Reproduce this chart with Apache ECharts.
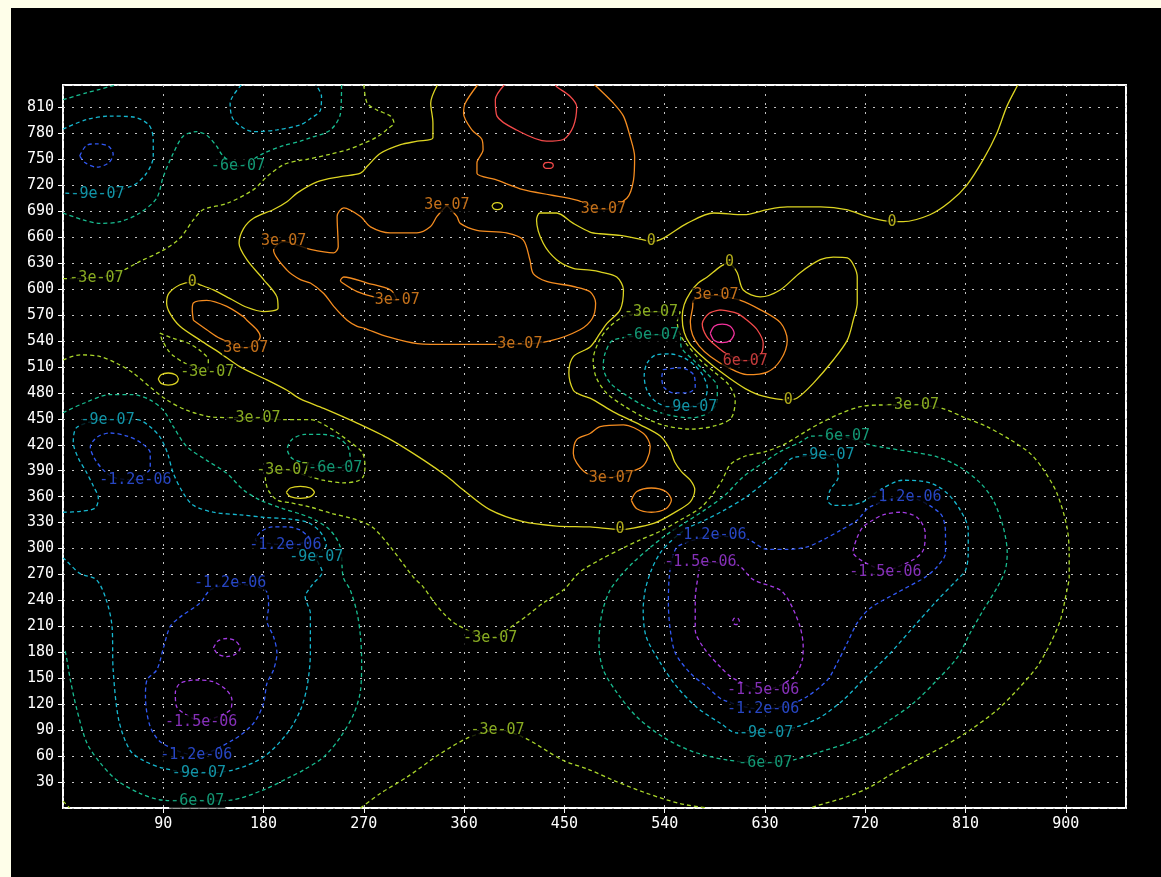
<!DOCTYPE html>
<html>
<head>
<meta charset="utf-8">
<script src="https://cdn.jsdelivr.net/npm/echarts@6/dist/echarts.min.js"></script>
<style>
  html, body { margin: 0; padding: 0; background: #fefee9; width: 1161px; height: 877px; overflow: hidden; }
  #chart { position: absolute; left: 11px; top: 8px; width: 1150px; height: 869px; background: #000; }
</style>
</head>
<body>
<div id="chart"></div>
<script>
// Contour levels, their printed text and colours
const LEVELS = [-1.5e-6, -1.2e-6, -9e-7, -6e-7, -3e-7, 0, 3e-7, 6e-7, 9e-7];
const LEVEL_TEXT = ['-1.5e-06', '-1.2e-06', '-9e-07', '-6e-07', '-3e-07', '0', '3e-07', '6e-07', '9e-07'];
const LEVEL_COLORS = ['#a63ce6', '#3158f4', '#16b8d0', '#18bc90', '#aad62a', '#dcd422', '#f48c20', '#f44a4a', '#f4329e'];

// Axis extents and tick spacing
const X_MAX = 954, Y_MAX = 836, X_STEP = 90, Y_STEP = 30;

// ---- contour polylines, [x, y] in data units ----
// -1.5e-6
const m15BL = [[124,99],[102,117],[100.8,133],[105,144],[120,148],[135,146],[147,136],[151.6,125],[150,113],[124,99]];
const m15BLsmall = [[135,185],[139,193],[147,196],[155,193],[159,185],[155,178],[147,175],[139,178],[135,185]];
const m15BRa = [[572,284],[605,281],[619.5,264],[643.6,252],[652.6,237],[661.6,209],[664.3,186],[663.4,171],[655.3,151],[628.4,136],[601.5,150],[590,163],[574.6,186],[567.4,206],[567.4,241],[570,269],[572,284]];
const m15BRb = [[738,273],[763,287],[772,298],[773.8,318],[766.6,336],[751.3,342],[736,339],[727,333],[718,325],[712.8,313],[709,296],[738,273]];
const m15BRtiny = [[601,216],[602,219],[604,220],[606,219],[607,216],[606,213],[604,212],[602,213],[601,216]];
// -1.2e-6
const m12TL = [[15,754],[21,766],[31,768],[41,765],[45,756],[41,746],[30,741],[20,746],[15,754]];
const m12UL = [[64.9,379.3],[78.3,393],[78.3,410.5],[70.3,422],[57.7,430],[42.4,433.6],[30.8,429],[24.5,417.5],[29,402.5],[38,388.6],[47,381.6],[64.9,379.3]];
const m12Small = [[199.5,304],[222.8,309.5],[219.2,315],[212.9,321.5],[202,325],[187.9,325],[177,319],[172.6,310],[199.5,304]];
const m12BL = [[150,260],[181.6,252],[184.5,233],[183,217],[189,198],[192,179],[189,160],[183,144],[180,121],[171,98],[153,79],[119.6,61],[89,75],[78.3,94],[74,129],[75.4,148],[84.3,160],[90.3,186],[96.3,210],[105.3,221],[123,237],[132,252],[150,260]];
const m12Mid = [[538.7,507],[554,509],[566,501],[567.4,487],[560,480],[548,480],[539,487],[537.5,499],[538.7,507]];
const m12BR = [[581,315],[614,311],[632,299],[650,299],[668,302],[682,310],[697.6,321],[713,333],[724,348],[756,360],[787,341],[792,318],[792,295],[784.5,279],[773.8,267],[748.6,249],[724.4,231],[712.8,214],[703.9,191],[694.9,168],[686,148],[668,129],[652.6,120],[628.4,114],[592.5,125],[578,140],[563,156],[549.6,179],[545,206],[543.3,237],[544,266],[546.8,289],[552.3,303],[581,315]];
// -9e-7
const m9TL = [[0,785],[21,796],[42,800],[63,799],[77,790],[81,773],[81,753],[75,734],[63,720],[31,710],[0,711]];
const m9Top = [[160,836],[150,815],[153,796],[171,782],[192,784],[213,790],[222,797],[231,807],[232,823],[227,836]];
const m9B = [[0,342],[15.5,343],[29,347],[31.7,358.5],[27.2,372.4],[20.9,388.5],[13.7,404.7],[9.2,423],[12.8,440.6],[40,449],[66.7,449],[78,441],[87,429],[93.6,411],[99,387],[108,364],[117,350],[134.9,342],[159.1,339],[181.6,336],[204,334],[220,330],[231,319],[236.3,304],[227.3,290],[232.6,273],[223.7,258],[217.4,244],[222,225],[222,179],[219,140],[213,113],[201,86],[180,59],[153,44],[122,40],[90,46],[72,55],[60,67],[50,102],[45,160],[44,210],[39,240],[30,264],[15.5,271],[2,287],[0,289]];
const m9Mid = [[562.9,463.6],[575.5,471.8],[578.2,485.7],[574.6,499.6],[567.4,511.2],[557.5,520.5],[545,525],[532.4,524],[524.3,514.7],[521.6,499.6],[524.3,482.2],[532.4,469.5],[545,463.6],[562.9,463.6]];
const m9BR = [[686,408],[655.3,405],[643.6,391],[627.5,374],[612.3,359],[594.3,345],[576.4,333],[561,324],[546.8,310],[536,295],[528,275],[522.5,252],[520.7,229],[523.4,198],[536,168],[551,140],[569.2,116],[589.9,98],[605,86.7],[631,86.7],[658.9,94],[679.6,105],[700.3,125],[718,148],[742.4,179],[763,209],[784.5,240],[802.5,264],[810,275],[812.4,295],[812.4,322],[805,345],[793.5,364],[778,376],[754,379],[733.4,368],[718,354],[704,350],[691.3,350],[686,356],[688.6,368],[695.8,383],[695,399],[686,408]];
// -6e-7
const m6Corner = [[0,819],[21,827],[33,831],[47,836]];
const m6A = [[0,688],[18,680],[33,676],[51,678],[69,688],[84,705],[90,730],[99,757],[108,777],[120,782],[129,778],[138,765],[143,755],[157,742],[180,757],[198,766],[213,771],[222,775],[240,784],[249,803],[250,836]];
const m6B = [[0,457],[18.5,468],[42.4,478],[63,478],[78,472],[90,460],[99,441],[111,418],[129,402],[147,387],[161.8,368],[177,356],[197.7,346],[212.9,340],[226.4,333],[239.9,321],[248.8,302],[251.5,267],[257.8,252],[264,225],[267,198],[268,171],[267,136],[261,109],[249,82],[234,59],[216,44],[204,36],[180,21],[150,9],[120.5,8],[90,9],[69,17],[48.5,32],[33.5,52],[21.5,75],[12.6,113],[6.6,148],[2,181],[0,183]];
const m6Small = [[244.3,393],[257.8,402],[256,417],[247,428],[232.6,432],[217.4,432],[205.8,426.5],[201.3,415],[205.8,404],[217.4,399],[230.9,395.5],[244.3,393]];
const m6Mid = [[528.6,547],[554,544.6],[554.8,533],[566.5,517],[578.2,502],[587.2,487],[587.2,472],[580.9,458],[562.9,451],[542.3,455],[524.3,463],[506.4,476.5],[491.1,491.5],[484.8,510],[486.6,526],[493.8,541],[528.6,547]];
const m6BR = [[700,430],[672,430],[661.6,423],[643.6,412],[625.8,397],[609.6,382],[594.3,362],[576.4,345],[558.4,330],[540.5,315],[525,299],[511.8,284],[500,268],[491,252],[484.8,231],[482,212],[481,189],[484.8,160],[497.4,133],[515.3,105],[538.7,82],[565.6,65],[596,55.5],[630.2,52],[655.3,55.5],[679.6,65],[703.9,75],[724.4,86.7],[742.4,102],[763,121],[784.5,148],[802.5,174],[814,202],[826,229],[838.4,255],[845.6,275],[847.4,295],[843.8,325],[834.8,356],[823.1,376],[805.2,394],[784.5,406],[760.3,412],[736.1,417],[724.4,420],[700,430]];
// -3e-7
const m3TL = [[0,612],[30,613],[51,620],[69,632],[90,645],[105,659],[117,680],[126,692],[147,699],[171,715],[183,730],[198,744],[213,749],[219,750],[240,756],[255,761],[267,767],[282,776],[292,786],[297,792],[294,800],[282,807],[273,815],[270,836]];
const m3Small = [[87,549],[99,543],[111.5,538],[123,529],[130.4,518],[129.5,504],[110,514],[99,523],[94.5,529],[89,541],[87,549]];
const m3B = [[0,518],[15.5,524],[33.5,522],[48.5,514],[63,503],[78,487],[93,472],[111,460],[135,452],[171,451],[198,449],[213,449],[222,449],[240,439],[257.8,423],[268.6,411],[271,395],[269.4,383],[264,378],[251.5,376],[233.6,379],[222,383],[197.7,391],[181.6,382],[184,368],[192.3,356],[204,353],[222,348],[240,341],[264,333],[278.4,324],[293.7,302],[314.4,267],[323,256],[332.5,239],[341.5,225],[353.5,212],[383.4,197],[407.4,214],[419,225],[431,237],[449,252],[464,273],[482,287],[500,299],[518,310],[536,320],[554,333],[572,347],[582.6,362],[591.6,379],[598.8,397],[612.3,407],[630.2,412],[648,421],[666,435],[679.6,445],[697.6,456],[715.5,464],[733.4,466],[762,466],[789,462],[808,452],[829,441],[850,426],[868,410],[880,391],[892,364],[901,325],[903,294.5],[903,267],[901,252],[895,217],[886,190],[874,163],[856,136],[838,113],[814,90],[790,71],[766,55],[742,38],[724,24],[703.5,13],[673.5,1.4],[671,0]];
const m3Bot = [[267,0],[285,17],[309,36],[339,63],[365,82],[390,90],[413,82],[449,55],[471,45],[494,32],[524,17],[554,5],[578,0]];
const m3Corner = [[0,8],[6,0]];
const m3Mid = [[527.7,573.6],[554,573.6],[551.3,562],[554,547],[561.1,534],[571.9,518],[584.5,504],[597,490],[603.3,472],[599.7,451],[585.4,442],[563,438],[540.5,442],[522.5,451],[504.6,464],[488.4,479],[478.5,498],[475.8,518],[480.3,538],[489.3,555],[504.6,569],[527.7,573.6]];
// 0
const z0Long = [[336,836],[330,815],[332,792],[332,775],[318,771],[303,767],[285,757],[273,742],[267,734],[249,730],[228,724],[210,711],[201,701],[189,692],[171,682],[162,670],[158,653],[165,634],[180,611],[192,591],[193,578],[180,574],[165,579],[150,589],[135,599],[123,605],[116,608],[105,605],[95,595],[93,584],[96,572],[105,557],[123,541],[141,526],[159,510],[183,495],[201,483],[213,473],[234,462],[264,445],[294,426],[324,402],[345,383],[359,368],[383,345],[413,331],[443,326],[473,325],[500,322],[509,323],[530,329],[548,341],[563,354],[567,368],[563,379],[555,389],[549,400],[545,414],[536,430],[518,443],[494,458],[476,472],[464,478],[458,483],[454,503],[458,522],[473,533],[482,549],[488,560],[500,576],[503,599],[497,614],[482,620],[473,622],[458,624],[443,634],[431,653],[425,680],[428,688],[443,688],[458,676],[473,666],[482,664],[500,662],[521,657],[528,655],[539,659],[560,676],[584,688],[611,686],[632,692],[650,695],[680,695],[703,692],[721,684],[733,680],[744,678],[754,678],[778,686],[796,701],[811,720],[826,750],[838,780],[847,811],[856,834],[857,836]];
const z0Peak = [[598.1,631.5],[589.9,626],[578.2,614],[570.1,607],[562.9,596],[557.5,582],[555.7,567],[557.5,550],[562.9,536],[571.9,524],[583.6,511],[597,498],[612.3,485],[627.5,476.5],[650.8,472],[658.9,474],[673.3,491],[691.3,518],[703.9,541],[709.2,564],[712.8,584],[712.8,614],[703.9,636],[691.3,637],[679.6,634],[661.6,619],[643.6,599],[625.8,591],[610.5,599],[605.1,619],[598.1,631.5]];
const z0SmallA = [[85.5,496],[88,501],[94.5,503],[101,501],[103.5,496],[101,491],[94.5,489],[88,491],[85.5,496]];
const z0SmallB = [[200.4,365],[204,370],[213,372],[222,370],[225.6,365],[222,360],[213,358],[204,360],[200.4,365]];
const z0SmallC = [[385,696],[386.5,699],[389.7,700],[393,699],[394.5,696],[393,693],[389.7,692],[386.5,693],[385,696]];
// 3e-7
const p3Top = [[372,836],[361,815],[359.5,803],[367,784],[376,773],[377,761],[371.5,746],[371.5,734],[389.5,726],[413,715],[437,709],[461,703],[485,692],[506,705],[512,726],[513,753],[509,776],[503,800],[494,815],[479,834],[477,836]];
const p3Big = [[344.5,697],[353.5,684],[356.5,676],[371.5,668],[398,665],[413,657],[419,634],[422,618],[434,609],[458,603],[473,597],[478,584],[475,566],[464,553],[437,540],[410,536],[383,536],[347.5,536],[318,537],[291,545],[270,555],[264,557],[255,564],[243,580],[234,595],[222,607],[213,611],[201,622],[189,645],[198,655],[222,646],[243,642],[247,649],[246,684],[252,694],[267,684],[276,672],[293.5,665],[317.6,665],[329.6,672],[335.6,684],[344.5,697]];
const p3Pocket = [[300,587],[294,599],[273,607],[252,614],[249,610],[251,607],[264,597],[279,591],[300,587]];
const p3Left = [[117,564],[116,576],[117,584],[129,587],[147,580],[162,568],[165,564],[174,553],[177,545],[164,532],[141,543],[129,553],[117,564]];
const p3Lower = [[492,382],[470,387],[461,399],[458,410],[461,426],[473,433],[482,441],[503,443],[521,433],[527,418],[524,402],[518,393],[492,382]];
const p3Oval = [[510,356],[515,366],[528,370],[541,366],[546,356],[541,346],[528,342],[515,346],[510,356]];
const p3Peak = [[586,593],[608,587],[626,576],[644,561],[650,541],[644,518],[632,504],[614,501],[596,510],[581,522],[571,534],[565,547],[563,562],[565,578],[566,587],[586,593]];
// 6e-7
const p6Top = [[396,836],[388,819],[389.5,800],[407,784],[434,771],[449,773],[458,788],[461,811],[455,823],[443,834],[442,836]];
const p6Dot = [[431,743],[432.5,746],[435.5,746.5],[438.5,746],[440,743],[438.5,740],[435.5,739.5],[432.5,740],[431,743]];
const p6Peak = [[589.9,576],[605,572],[614,564],[623,553],[628.4,537],[625.8,524],[612.3,517],[597,524],[585.4,535],[577.3,546],[573.7,560],[580,572],[589.9,576]];
// 9e-7
const p9Peak = [[580.9,549],[584.5,557],[591.6,559.5],[598.8,557],[602.4,549],[598.8,540.5],[591.6,538],[584.5,540.5],[580.9,549]];

// Which level each polyline belongs to (index into LEVELS)
const contourLines = [
  [0, m15BL], [0, m15BLsmall], [0, m15BRa], [0, m15BRb], [0, m15BRtiny],
  [1, m12TL], [1, m12UL], [1, m12Small], [1, m12BL], [1, m12Mid], [1, m12BR],
  [2, m9TL], [2, m9Top], [2, m9B], [2, m9Mid], [2, m9BR],
  [3, m6Corner], [3, m6A], [3, m6B], [3, m6Small], [3, m6Mid], [3, m6BR],
  [4, m3TL], [4, m3Small], [4, m3B], [4, m3Bot], [4, m3Corner], [4, m3Mid],
  [5, z0Long], [5, z0Peak], [5, z0SmallA], [5, z0SmallB], [5, z0SmallC],
  [6, p3Top], [6, p3Big], [6, p3Pocket], [6, p3Left], [6, p3Lower], [6, p3Oval], [6, p3Peak],
  [7, p6Top], [7, p6Dot], [7, p6Peak],
  [8, p9Peak]
];

// Inline level labels: [x, y, level index]
const contourLabels = [
  [124,99,0], [572,284,0], [628.4,136,0], [738,273,0],
  [64.9,379.3,1], [199.5,304,1], [150,260,1], [119.6,61,1], [581,315,1], [756,360,1], [628.4,114,1],
  [31,710,2], [40,449,2], [227.3,290,2], [122,40,2], [562.9,463.6,2], [686,408,2], [631,86.7,2],
  [157,742,3], [120.5,8,3], [528.6,547,3], [700,430,3], [630.2,52,3],
  [30,613,4], [171,451,4], [197.7,391,4], [129.5,504,4], [383.4,197,4], [390,90,4], [762,466,4], [527.7,573.6,4],
  [244.3,393,3],
  [116,608,5], [500,322,5], [528,655,5], [744,678,5], [598.1,631.5,5], [650.8,472,5],
  [485,692,6], [344.5,697,6], [410,536,6], [198,655,6], [300,587,6], [164,532,6], [492,382,6], [586,593,6],
  [612.3,517,7]
];

const FONT = 'DejaVu Sans Mono';

const series = contourLines.map(([li, pts]) => ({
  type: 'line',
  data: pts,
  showSymbol: false,
  symbol: 'none',
  smooth: 0.3,
  silent: true,
  animation: false,
  z: 2,
  lineStyle: {
    color: LEVEL_COLORS[li],
    width: 1.3,
    type: LEVELS[li] < 0 ? [4, 3] : 'solid'
  }
}));

series.push({
  type: 'scatter',
  silent: true,
  animation: false,
  z: 5,
  symbolSize: 1,
  itemStyle: { color: 'rgba(0,0,0,0)' },
  data: contourLabels.map(([x, y, li]) => ({
    value: [x, y],
    name: LEVEL_TEXT[li],
    label: { color: LEVEL_COLORS[li] }
  })),
  label: {
    show: true,
    position: 'inside',
    formatter: '{b}',
    fontFamily: FONT,
    fontSize: 15,
    backgroundColor: '#000',
    padding: [0, 1],
    lineHeight: 15
  }
});

const gridLine = { show: true, lineStyle: { color: '#c4c4c4', width: 1, type: [2, 7] } };

const chart = echarts.init(document.getElementById('chart'), null, { renderer: 'canvas' });
chart.setOption({
  backgroundColor: '#000',
  animation: false,
  grid: {
    left: 52, top: 77, right: 35, bottom: 69,
    show: true, borderColor: '#ffffff', borderWidth: 2, backgroundColor: '#000'
  },
  xAxis: {
    type: 'value', min: 0, max: X_MAX, interval: X_STEP,
    axisLine: { show: false },
    axisTick: { show: true, length: 5, lineStyle: { color: '#fff' } },
    axisLabel: {
      color: '#fff', fontFamily: FONT, fontSize: 15, margin: 9,
      showMinLabel: false, showMaxLabel: false,
      formatter: v => (v > 0 && v % X_STEP === 0) ? String(v) : ''
    },
    splitLine: gridLine
  },
  yAxis: {
    type: 'value', min: 0, max: Y_MAX, interval: Y_STEP,
    axisLine: { show: false },
    axisTick: { show: true, length: 5, lineStyle: { color: '#fff' } },
    axisLabel: {
      color: '#fff', fontFamily: FONT, fontSize: 15, margin: 9,
      showMinLabel: false, showMaxLabel: false,
      formatter: v => (v > 0 && v % Y_STEP === 0) ? String(v) : ''
    },
    splitLine: gridLine
  },
  series: series
});
</script>
</body>
</html>
